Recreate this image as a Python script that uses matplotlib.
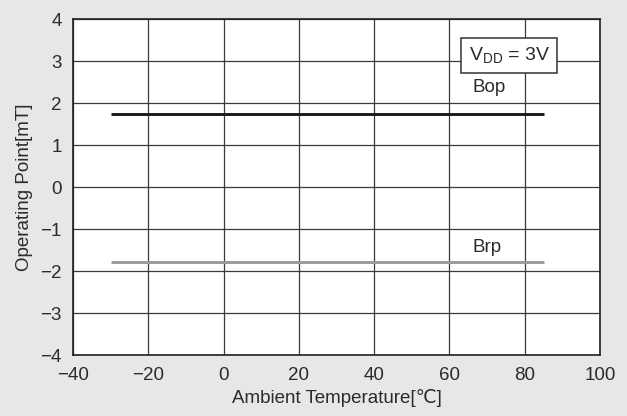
import matplotlib
matplotlib.use('Agg')
import matplotlib.pyplot as plt
from matplotlib.patches import Rectangle

plt.rcParams['font.family'] = ['Liberation Sans', 'DejaVu Sans']
plt.rcParams['mathtext.fontset'] = 'custom'
plt.rcParams['mathtext.rm'] = 'Liberation Sans'

# data
temp = [-30, 85]
bop = [1.75, 1.75]
brp = [-1.78, -1.78]
x_ticks = [-40, -20, 0, 20, 40, 60, 80, 100]
y_ticks = [-4, -3, -2, -1, 0, 1, 2, 3, 4]

bg = '#e6e7e8'
grid_col = '#3a3a3a'
txt_col = '#2b2b2b'

fig = plt.figure(figsize=(6.27, 4.16), dpi=100, facecolor=bg)
ax = fig.add_axes([73 / 627, 1 - 355 / 416, (600 - 73) / 627, (355 - 19) / 416])
ax.set_facecolor('white')

ax.plot(temp, bop, color='#1a1a1a', lw=2.1, solid_capstyle='butt', zorder=3)
ax.plot(temp, brp, color='#9a9a9a', lw=2.1, solid_capstyle='butt', zorder=3)

ax.set_xlim(-40, 100)
ax.set_ylim(-4, 4)
ax.set_xticks(x_ticks)
ax.set_yticks(y_ticks)
ax.grid(True, color=grid_col, lw=0.9)
ax.tick_params(axis='both', length=0, labelsize=13.5, labelcolor=txt_col)
ax.tick_params(axis='x', pad=9)
ax.tick_params(axis='y', pad=8)
for s in ax.spines.values():
    s.set_color('#222222')
    s.set_linewidth(1.2)

ax.set_xlabel('Ambient Temperature[\u2103]', fontsize=13.5, color=txt_col, labelpad=3)
ax.set_ylabel('Operating Point[mT]', fontsize=13.5, color=txt_col, labelpad=5)

# condition box (top right)
ax.add_patch(Rectangle((63.1, 2.71), 25.5, 0.84, fc='white', ec='#333333', lw=1.1, zorder=4))
ax.text(75.9, 3.13, r'V$_{\mathregular{DD}}$ = 3V', fontsize=14, color=txt_col,
        ha='center', va='center', zorder=5)
ax.text(70.5, 2.36, 'Bop', fontsize=13.5, color=txt_col, ha='center', va='center')
ax.text(70, -1.45, 'Brp', fontsize=13.5, color=txt_col, ha='center', va='center')

fig.savefig('out.png', dpi=100, facecolor=bg)
